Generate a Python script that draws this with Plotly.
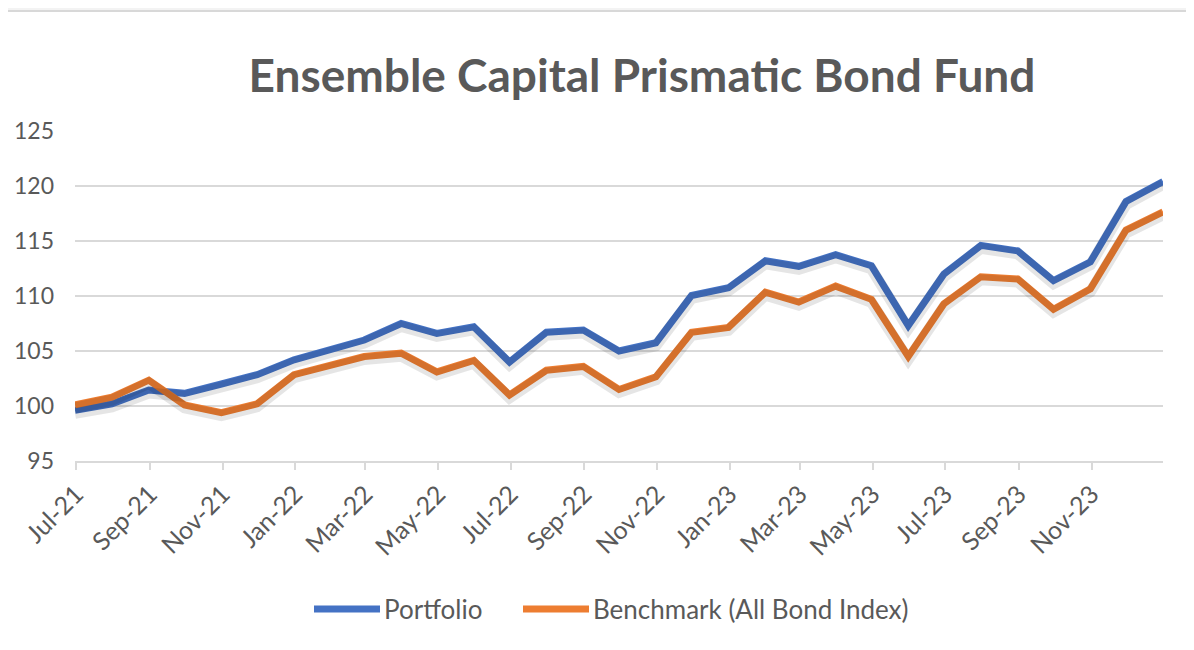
import pandas as pd
import plotly.graph_objects as go

# ---- data ----
dates = pd.date_range("2021-06-30", "2023-12-31", freq="ME")
portfolio = [99.6, 100.2, 101.45, 101.15, 102.0, 102.85, 104.2, 105.2, 106.0, 107.5,
             106.6, 107.2, 104.0, 106.7, 106.9, 105.0, 105.75, 110.05, 110.75, 113.2,
             112.7, 113.75, 112.75, 107.3, 112.0, 114.6, 114.1, 111.4, 113.1, 118.6, 120.4]
benchmark = [100.1, 100.8, 102.35, 100.1, 99.4, 100.2, 102.85, 103.7, 104.5, 104.8,
             103.1, 104.15, 101.0, 103.25, 103.6, 101.5, 102.65, 106.7, 107.15, 110.35,
             109.45, 110.9, 109.7, 104.5, 109.3, 111.75, 111.55, 108.8, 110.65, 116.0, 117.65]
series_names = ["Portfolio", "Benchmark (All Bond Index)"]
tick_dates = pd.date_range("2021-07-01", "2023-11-01", freq="2MS")
tick_labels = [d.strftime("%b-%y") for d in tick_dates]
y_ticks = [95, 100, 105, 110, 115, 120, 125]

BLUE = "#4472C4"
ORANGE = "#ED7D31"
GREY_TXT = "#595959"
GRID = "#d9d9d9"
FONT = "Lato"

W, H = 1194, 650
ML, MR, MT, MB = 67, 39, 123, 197
PW, PH = W - ML - MR, H - MT - MB


def px_x(px):
    return (px - ML) / PW


def px_y(py):
    return (H - MB - py) / PH


Y_RANGE = [95, 125]
shadow_dy = 3.0 * (Y_RANGE[1] - Y_RANGE[0]) / PH  # ~3px drop shadow

fig = go.Figure()
# soft drop shadows (same data, drawn on a slightly shifted overlay axis)
for vals in (portfolio, benchmark):
    fig.add_trace(go.Scatter(x=dates, y=vals, mode="lines", yaxis="y2", showlegend=False,
                             hoverinfo="skip",
                             line=dict(color="rgba(0,0,0,0.10)", width=11)))
fig.add_trace(go.Scatter(x=dates, y=portfolio, mode="lines", name=series_names[0],
                         showlegend=False, line=dict(color=BLUE, width=7)))
fig.add_trace(go.Scatter(x=dates, y=benchmark, mode="lines", name=series_names[1],
                         showlegend=False, line=dict(color=ORANGE, width=7)))

# manual legend (long line keys like the original)
legend_items = [(series_names[0], BLUE, 306, 372), (series_names[1], ORANGE, 515, 581)]
shapes = [
    dict(type="rect", xref="paper", yref="paper", x0=px_x(-20), x1=px_x(W + 20),
         y0=px_y(3), y1=px_y(-20), fillcolor="#f3f3f3", line=dict(width=0), layer="below"),
    dict(type="line", xref="paper", yref="paper", x0=px_x(-20), x1=px_x(W + 20),
         y0=px_y(3), y1=px_y(3), line=dict(color="#d8d8d8", width=2), layer="below"),
]
annotations = []
for name, col, x0, x1 in legend_items:
    shapes.append(dict(type="line", xref="paper", yref="paper",
                       x0=px_x(x0), x1=px_x(x1), y0=px_y(601), y1=px_y(601),
                       line=dict(color=col, width=7)))
    annotations.append(dict(text=name, xref="paper", yref="paper", x=px_x(x1 + 2),
                            y=px_y(601), xanchor="left", yanchor="middle", showarrow=False,
                            font=dict(family=FONT, size=26, color=GREY_TXT)))

fig.update_layout(
    width=W, height=H,
    margin=dict(l=ML, r=MR, t=MT, b=MB),
    paper_bgcolor="white",
    plot_bgcolor="rgba(0,0,0,0)",
    font=dict(family=FONT, color=GREY_TXT, size=22),
    title=dict(text="<b>Ensemble Capital Prismatic Bond Fund</b>",
               x=634 / W, xref="container", xanchor="center",
               y=1 - 68 / H, yref="container", yanchor="middle",
               font=dict(family=FONT, size=46, color=GREY_TXT)),
    showlegend=False,
    xaxis=dict(
        range=[dates[0], dates[-1]], automargin=False,
        tickmode="array", tickvals=tick_dates, ticktext=tick_labels,
        tickangle=-45, ticks="outside", ticklen=7, tickcolor=GRID, tickwidth=1.5,
        showline=True, linecolor=GRID, linewidth=1.5,
        showgrid=False, zeroline=False,
        tickfont=dict(family=FONT, size=25, color=GREY_TXT),
    ),
    yaxis=dict(
        range=Y_RANGE, automargin=False, tickmode="array", tickvals=y_ticks,
        showgrid=True, gridcolor=GRID, gridwidth=1.5,
        zeroline=False, showline=False, ticks="",
        ticklabelstandoff=20,
        tickfont=dict(family=FONT, size=23, color=GREY_TXT),
    ),
    yaxis2=dict(range=[Y_RANGE[0] + shadow_dy, Y_RANGE[1] + shadow_dy], overlaying="y",
                visible=False, automargin=False),
    shapes=shapes,
    annotations=annotations,
)

fig.write_html("out.html")
